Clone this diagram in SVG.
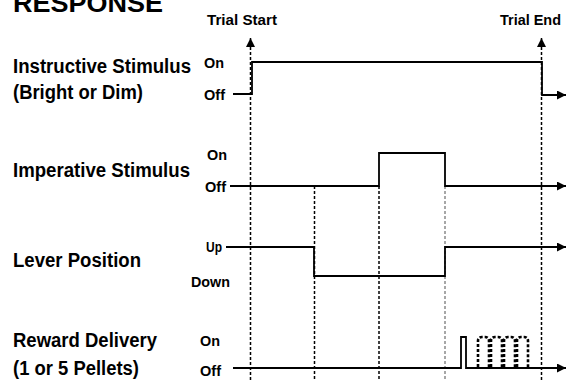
<svg xmlns="http://www.w3.org/2000/svg" width="566" height="380" viewBox="0 0 566 380">
<style>
text{font-family:"Liberation Sans",Arial,sans-serif;font-weight:bold;fill:#000}
.big{font-size:19.5px}
.sm{font-size:15px}
.hdr{font-size:15px}
.sig{fill:none;stroke:#000;stroke-width:1.8}
.dash{fill:none;stroke:#000;stroke-width:1.5;stroke-dasharray:3 2}
.dashg{fill:none;stroke:#8a8a8a;stroke-width:1.5;stroke-dasharray:3 2}
.pel{fill:none;stroke:#000;stroke-width:2.6;stroke-dasharray:3 2}
</style>
<defs>
<marker id="ar" viewBox="0 0 10 10" refX="10" refY="5" markerWidth="9" markerHeight="9" markerUnits="userSpaceOnUse" orient="auto">
<path d="M0,0 L10,5 L0,10 Z" fill="#000"/>
</marker>
</defs>
<rect width="566" height="380" fill="#fff"/>
<g id="title">
<text x="13" y="12" font-size="26" textLength="150" lengthAdjust="spacingAndGlyphs">RESPONSE</text>
</g>
<g id="connectors">
<line class="dash" x1="250.5" y1="380" x2="250.5" y2="38" marker-end="url(#ar)"/>
<line class="dash" x1="541.5" y1="380" x2="541.5" y2="38" marker-end="url(#ar)"/>
<line class="dash" x1="314.5" y1="186" x2="314.5" y2="380"/>
<line class="dash" x1="379" y1="186" x2="379" y2="380"/>
<line class="dashg" x1="445" y1="186" x2="445" y2="380"/>
</g>
<g id="trial-start">
<text class="hdr" x="207" y="25" textLength="70" lengthAdjust="spacingAndGlyphs">Trial Start</text>
</g>
<g id="trial-end">
<text class="hdr" x="500" y="25" textLength="61" lengthAdjust="spacingAndGlyphs">Trial End</text>
</g>
<g id="instructive">
<text class="big" x="13" y="73" textLength="178" lengthAdjust="spacingAndGlyphs">Instructive Stimulus</text>
<text class="big" x="13" y="99" textLength="130" lengthAdjust="spacingAndGlyphs">(Bright or Dim)</text>
<text class="sm" x="204" y="68" textLength="20" lengthAdjust="spacingAndGlyphs">On</text>
<text class="sm" x="204" y="100" textLength="21" lengthAdjust="spacingAndGlyphs">Off</text>
<path class="sig" d="M233,94 H252 V62 H542 V95 H566" marker-end="url(#ar)"/>
</g>
<g id="imperative">
<text class="big" x="13" y="177" textLength="177" lengthAdjust="spacingAndGlyphs">Imperative Stimulus</text>
<text class="sm" x="207" y="160" textLength="20" lengthAdjust="spacingAndGlyphs">On</text>
<text class="sm" x="205" y="192" textLength="21" lengthAdjust="spacingAndGlyphs">Off</text>
<path class="sig" d="M230,186 H379 V153 H445 V186 H566" marker-end="url(#ar)"/>
</g>
<g id="lever">
<text class="big" x="13" y="267" textLength="128" lengthAdjust="spacingAndGlyphs">Lever Position</text>
<text class="sm" x="206" y="252" textLength="16" lengthAdjust="spacingAndGlyphs">Up</text>
<text class="sm" x="191" y="287" textLength="39" lengthAdjust="spacingAndGlyphs">Down</text>
<path class="sig" d="M226,247 H314 V276 H445 V247 H566" marker-end="url(#ar)"/>
</g>
<g id="reward">
<text class="big" x="13" y="347" textLength="144" lengthAdjust="spacingAndGlyphs">Reward Delivery</text>
<text class="big" x="13" y="375" textLength="126" lengthAdjust="spacingAndGlyphs">(1 or 5 Pellets)</text>
<text class="sm" x="200" y="346" textLength="20" lengthAdjust="spacingAndGlyphs">On</text>
<text class="sm" x="200" y="376" textLength="21" lengthAdjust="spacingAndGlyphs">Off</text>
<path class="sig" d="M233,368 H461 V337 H466 V368 H566" marker-end="url(#ar)"/>
<path class="pel" d="M478,367 V341 Q478,337 482,337 H485 Q489,337 489,341 V367"/>
<path class="pel" d="M491,367 V341 Q491,337 495,337 H498 Q502,337 502,341 V367"/>
<path class="pel" d="M504,367 V341 Q504,337 508,337 H511 Q515,337 515,341 V367"/>
<path class="pel" d="M517,367 V341 Q517,337 521,337 H524 Q528,337 528,341 V367"/>
</g>
</svg>
